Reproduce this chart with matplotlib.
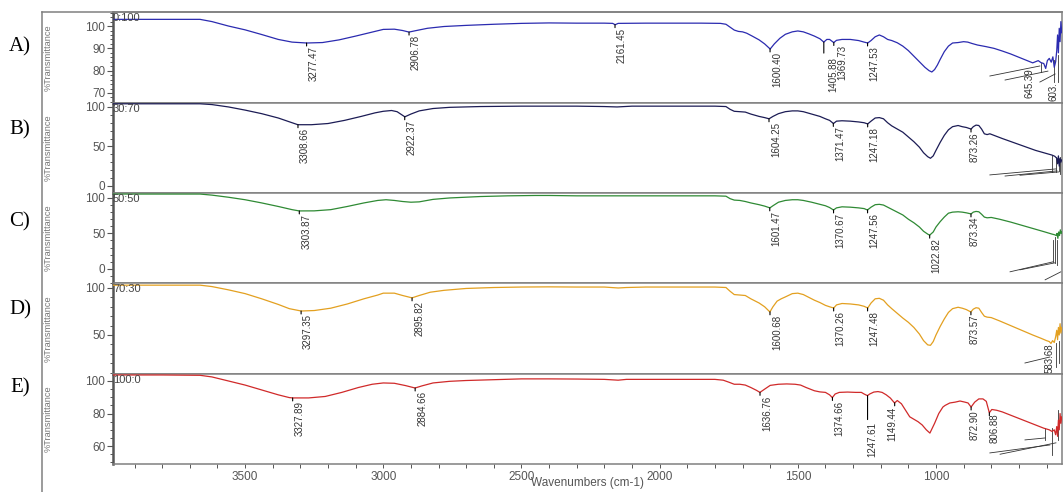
import numpy as np
import matplotlib
matplotlib.use("Agg")
import matplotlib.pyplot as plt
from matplotlib.ticker import MultipleLocator, FixedLocator
from matplotlib.lines import Line2D

plt.rcParams['font.family'] = ['Liberation Sans', 'DejaVu Sans']

# ---------------- data ----------------
ratios = ["0:100", "30:70", "50:50", "70:30", "100:0"]
letters = ["A)", "B)", "C)", "D)", "E)"]
x_ticks = [3500, 3000, 2500, 2000, 1500, 1000]

wn_a = [3978, 3700, 3663, 3620, 3560, 3500, 3440, 3380, 3330, 3277, 3220, 3160, 3100, 3050, 3000,
        2960, 2930, 2907, 2880, 2840, 2780, 2700, 2600, 2500, 2400, 2300, 2200, 2170, 2161, 2150,
        2050, 1950, 1850, 1780, 1760, 1745, 1730, 1715, 1700, 1685, 1665, 1640, 1620, 1600, 1585,
        1565, 1545, 1520, 1500, 1480, 1460, 1440, 1420, 1406, 1395, 1385, 1370, 1360, 1340, 1310,
        1280, 1260, 1247, 1235, 1220, 1205, 1190, 1175, 1160, 1140, 1120, 1100, 1080, 1060, 1040,
        1025, 1015, 1005, 995, 985, 970, 955, 940, 920, 900, 885, 870, 850, 820, 790, 760, 730,
        700, 680, 660, 650, 640, 630, 620, 610, 603, 597, 590, 583, 577, 572, 567, 563, 560, 557,
        554, 551, 548, 545]
t_a = [103, 103, 103, 102, 100, 98.3, 96.2, 94, 92.8, 92.4, 92.6, 93.8, 95.5, 97, 98.5,
       98.6, 98, 97.3, 98, 99, 99.8, 100.3, 100.8, 101.2, 101.4, 101.3, 101.3, 101.2, 100.6, 101.2,
       101.3, 101.3, 101.3, 101.2, 100.8, 99.5, 98.2, 97.6, 97.4, 96.8, 95.5, 93.8, 92, 89.7, 92,
       94.5, 96.3, 97.4, 97.8, 97.4, 96.5, 95.5, 94.3, 92.8, 94, 94, 92.6, 93.6, 94, 94,
       93.5, 92.8, 92.4, 93.5, 95.2, 96, 95.2, 94, 93.5, 92.5, 91, 89, 86.5, 84, 81.5,
       80, 79.4, 80.5, 82.5, 85, 88.5, 91, 92.4, 92.6, 93, 92.8, 92.2, 91.5, 90.8, 90, 88.8, 87.5,
       86, 85, 84, 83.5, 84, 84.5, 83.6, 83.2, 81, 84.5, 85.5, 83.8, 86.2, 81.5, 84, 89, 96, 88,
       99, 93, 102, 97]

wn_b = [3978, 3663, 3620, 3560, 3500, 3440, 3380, 3330, 3309, 3260, 3200, 3140, 3080, 3030, 3000,
        2970, 2950, 2922, 2900, 2870, 2820, 2760, 2650, 2500, 2400, 2300, 2200, 2154, 2100, 2000,
        1900, 1800, 1760, 1745, 1730, 1710, 1690, 1670, 1640, 1620, 1604, 1590, 1570, 1545, 1520,
        1500, 1480, 1460, 1440, 1420, 1400, 1385, 1371, 1360, 1340, 1310, 1280, 1260, 1247, 1235,
        1220, 1205, 1190, 1175, 1160, 1140, 1120, 1100, 1080, 1060, 1045, 1030, 1020, 1010, 1000,
        985, 970, 955, 940, 920, 905, 890, 873, 865, 855, 845, 835, 825, 815, 805, 790, 760, 720,
        680, 640, 600, 580, 570, 563, 560, 557, 554, 551, 548, 545]
t_b = [104, 104, 103, 100, 96, 91.5, 86, 80, 77.5, 77.5, 79, 83, 88, 92.5, 94.5,
       95.5, 94, 87.5, 91, 95, 98, 99.5, 100.5, 101, 101, 101, 100.5, 100, 101, 101,
       101, 101, 100.5, 97, 94.5, 94, 93.5, 91, 88, 86.5, 85, 88, 91.5, 94, 95,
       95, 94, 92, 90, 88, 85, 83, 79, 82, 82.5, 82, 81, 80, 78.5, 82,
       86, 86.5, 85, 80, 76, 72, 68, 62, 56, 49, 42, 37, 35, 38, 45,
       55, 64, 71, 75, 76.5, 75, 74, 72, 75, 77, 76.5, 72, 66, 65, 66, 64, 60, 55,
       50, 45, 41, 39, 37.5, 35, 28, 38, 25, 35, 30, 33]

wn_c = [3978, 3663, 3620, 3560, 3500, 3440, 3380, 3330, 3304, 3250, 3190, 3130, 3070, 3020, 2990,
        2960, 2930, 2900, 2870, 2820, 2760, 2650, 2550, 2450, 2400, 2300, 2200, 2100, 2000, 1900,
        1800, 1760, 1745, 1730, 1710, 1690, 1670, 1640, 1620, 1601, 1590, 1570, 1545, 1520, 1500,
        1480, 1450, 1420, 1400, 1385, 1371, 1360, 1340, 1310, 1280, 1260, 1248, 1235, 1220, 1205,
        1190, 1175, 1160, 1140, 1120, 1100, 1080, 1060, 1045, 1030, 1023, 1010, 1000, 985, 970,
        955, 940, 920, 905, 890, 873, 865, 855, 845, 835, 825, 815, 800, 770, 730, 690, 650, 610,
        580, 570, 565, 562, 559, 556, 553, 550, 547, 545]
t_c = [105.5, 105.5, 104, 101, 97.5, 93, 88, 83.5, 81.7, 81.8, 83.5, 88, 93, 96.5, 97.5,
       96.5, 95, 94, 94.5, 98, 100, 102, 103, 103.5, 103.5, 103, 103, 103, 103, 103,
       103, 102.5, 99, 97, 96.5, 95, 93, 90.5, 88.5, 86, 89, 94, 96.5, 97.5, 97.5,
       96.5, 94, 91, 89, 86.5, 83, 86, 87.5, 87, 86, 85, 83, 87, 90.5, 91,
       90, 87, 84, 80, 76, 70, 65, 59, 53, 49, 47.5, 52, 59, 66.5, 73,
       78.5, 80, 80.5, 80, 79, 77.5, 80, 81, 80.5, 77, 73, 72, 72.5, 70, 66, 61.5, 57, 52.5,
       49, 48, 47, 50, 43, 52, 47, 55, 50, 52]

wn_d = [3978, 3663, 3620, 3560, 3500, 3440, 3380, 3340, 3297, 3250, 3190, 3130, 3070, 3020, 3000,
        2960, 2930, 2896, 2870, 2830, 2780, 2700, 2600, 2500, 2400, 2300, 2200, 2150, 2120, 2050,
        2000, 1900, 1800, 1760, 1745, 1730, 1710, 1690, 1670, 1640, 1620, 1601, 1590, 1575, 1560,
        1545, 1520, 1500, 1480, 1460, 1440, 1420, 1400, 1385, 1370, 1360, 1340, 1310, 1280, 1260,
        1247, 1235, 1220, 1205, 1190, 1175, 1160, 1140, 1120, 1100, 1080, 1060, 1045, 1030, 1020,
        1010, 1000, 985, 970, 955, 940, 920, 905, 890, 874, 865, 855, 845, 835, 825, 815, 800, 770,
        730, 690, 650, 620, 600, 590, 584, 578, 572, 567, 563, 560, 557, 554, 551, 548, 545]
t_d = [103, 103, 101.5, 98, 94, 88.5, 82.5, 78, 75.5, 76, 78.5, 83, 88.5, 92.5, 94.5,
       94.5, 92, 89.5, 92, 95.5, 97.5, 99.5, 100.5, 101, 101.2, 101, 101, 100, 100.5, 101,
       101, 101, 101, 100.5, 96.5, 93, 92.5, 92, 88.5, 84, 80, 74.5, 80, 86, 88.5,
       90.5, 94, 94.5, 93, 90, 87, 84.5, 81.5, 80, 78.7, 82, 83.5, 83, 82, 80.5,
       78.7, 84, 88.5, 89, 87, 82, 78, 73, 68, 63.5, 58, 51, 44, 39.5, 39,
       43, 50, 59, 67, 74, 78, 79.5, 78.5, 77, 74.5, 77.5, 79, 78.5, 74, 70, 69, 68.5, 65,
       60, 55, 50, 46.5, 44, 43, 41, 44, 42, 48, 55, 45, 58, 50, 62, 52, 58]

wn_e = [3978, 3800, 3663, 3620, 3560, 3500, 3440, 3380, 3340, 3328, 3270, 3210, 3150, 3090, 3040,
        3000, 2960, 2920, 2885, 2860, 2820, 2760, 2700, 2600, 2500, 2400, 2300, 2200, 2150, 2120,
        2050, 2000, 1900, 1800, 1770, 1750, 1730, 1710, 1690, 1670, 1650, 1637, 1620, 1600, 1570,
        1540, 1510, 1490, 1470, 1440, 1420, 1400, 1385, 1375, 1365, 1350, 1320, 1290, 1270, 1260,
        1248, 1240, 1225, 1210, 1195, 1180, 1165, 1150, 1140, 1125, 1110, 1095, 1080, 1065, 1050,
        1035, 1022, 1005, 990, 975, 967, 950, 931, 913, 895, 884, 873, 860, 845, 830, 818, 807,
        798, 780, 760, 730, 700, 670, 640, 610, 590, 580, 572, 567, 563, 560, 557, 554, 551, 548, 545]
t_e = [103.7, 103.7, 103.5, 102.5, 100, 97.5, 94.5, 91.5, 89.8, 89.6, 89.6, 90.5, 93, 96, 98,
       98.8, 98.6, 97.2, 95.7, 97, 98.8, 99.8, 100.3, 100.8, 101.3, 101.3, 101.2, 101, 100.5, 101,
       101, 101, 101, 101, 100.5, 99.3, 98, 98, 97.5, 96, 94.3, 93, 95, 97.3, 98,
       98.2, 98, 97.5, 96, 94, 93.3, 93, 91.5, 89.8, 92, 93, 93.2, 93, 93, 92,
       91, 92, 93.2, 93.5, 93, 91.5, 89.5, 86.5, 88, 86, 82, 78, 76.5, 75, 73,
       70, 68, 74, 80, 84, 85, 86.5, 87, 87.7, 87, 86.5, 84, 87, 89, 89, 87.5, 80.5,
       82.5, 82, 81, 79, 77, 75, 73, 71, 70, 69, 70, 67, 72, 66, 76, 70, 80, 74, 78]

wavenumbers = [wn_a, wn_b, wn_c, wn_d, wn_e]
transmittance = [t_a, t_b, t_c, t_d, t_e]

peak_labels = [
    ["3277.47", "2906.78", "2161.45", "1600.40", "1405.88", "1369.73", "1247.53"],
    ["3308.66", "2922.37", "1604.25", "1371.47", "1247.18", "873.26"],
    ["3303.87", "1601.47", "1370.67", "1247.56", "1022.82", "873.34"],
    ["3297.35", "2895.82", "1600.68", "1370.26", "1247.48", "873.57"],
    ["3327.89", "2884.66", "1636.76", "1374.66", "1247.61", "1149.44", "872.90", "806.88"],
]
# labels pushed to the crowded right end (text, wavenumber, %T of text top)
edge_labels = [
    [("645.39", 660, 81.2), ("603.", 573, 74.9)],
    [],
    [],
    [("583.68", 588, 41.5)],
    [],
]
# leader lines of the crowded right end (wn1, T1, wn2, T2)
leaders = [
    [(805, 77.6, 624, 82.1), (750, 75.8, 595, 79.8), (624, 74.9, 569, 78.5),
     (620, 83.4, 620, 79.4), (573, 84.8, 573, 74.9), (559, 87, 559, 74.9)],
    [(805, 13.9, 566, 21.5), (750, 12.5, 562, 19), (696, 13.5, 555, 17.7),
     (580, 39, 580, 17.7), (566, 37, 566, 17.7), (555, 34, 555, 19), (550, 36, 550, 15)],
    [(732, -4.2, 576, 9.9), (696, -1.4, 569, 8.5), (605, -15.5, 548, -4.2),
     (576, 40.8, 576, 9.9), (569, 45, 569, 8.5), (562, 40.8, 562, 6)],
    [(678, 20.2, 588, 26.6), (566, 41.5, 566, 16), (555, 44, 555, 20)],
    [(805, 55.8, 588, 60.7), (678, 63.8, 605, 65), (768, 55, 566, 62),
     (606, 71.2, 606, 63.8), (580, 71, 580, 54.6), (559, 82, 559, 63.8)],
]

# ---------------- style / layout ----------------
colors = ["#2b2bb0", "#1c1c55", "#2f8a34", "#e3a020", "#d02a2a"]
ylims = [(65.5, 106.3), (-9, 105), (-20, 107), (8.5, 105.3), (49, 104.3)]
ymajors = [[70, 80, 90, 100], [0, 50, 100], [0, 50, 100], [50, 100], [60, 80, 100]]
yminors = [2, 10, 10, 10, 5]
panel_px = [(12, 103), (103, 193), (193, 283), (283, 374), (374, 464)]
letter_y = [47, 130, 222, 310, 388]
special = {(0, "1405.88"): (9, 15, 11), (0, "1369.73"): (9, 2, 3),
           (4, "1247.61"): (5, 26, 24), (4, "1149.44"): (-2, 4, 3), (4, "806.88"): (5, 1, 3)}

W, H = 1064, 492
fig = plt.figure(figsize=(W / 100, H / 100), dpi=100)
x0, x1 = 113, 1062
PT = 72 / 100
grey = "#555555"

for i, (top, bot) in enumerate(panel_px):
    ax = fig.add_axes([x0 / W, 1 - bot / H, (x1 - x0) / W, (bot - top) / H])
    wn = np.array(wavenumbers[i], float)
    tt = np.array(transmittance[i], float)
    ax.plot(wn, tt, color=colors[i], lw=0.9, zorder=3)
    ax.set_xlim(3978, 544)
    ax.set_ylim(*ylims[i])
    ax.yaxis.set_major_locator(FixedLocator(ymajors[i]))
    ax.yaxis.set_minor_locator(MultipleLocator(yminors[i]))
    ax.xaxis.set_major_locator(FixedLocator(x_ticks))
    ax.xaxis.set_minor_locator(MultipleLocator(100))
    ax.tick_params(axis='y', which='major', direction='out', length=4.5, width=0.8,
                   color=grey, labelsize=8.5, labelcolor=grey, pad=1)
    ax.tick_params(axis='y', which='minor', direction='out', length=2.5, width=0.7, color=grey)
    if i == 4:
        ax.tick_params(axis='x', which='both', direction='out', length=3, width=0.7,
                       color=grey, labelsize=8.5, labelcolor=grey, pad=2)
    else:
        ax.tick_params(axis='x', which='both', bottom=False, labelbottom=False)
    for s in ['top', 'right', 'bottom']:
        ax.spines[s].set_color("#808080")
        ax.spines[s].set_linewidth(1.1)
    ax.spines['left'].set_color("#555555")
    ax.spines['left'].set_linewidth(1.8)
    ax.set_ylabel("%Transmittance", fontsize=6.7, color="#777777")
    ax.yaxis.set_label_coords(-0.064, 0.5)
    ax.text(0.0, 0.985, ratios[i], transform=ax.transAxes, ha='left', va='top',
            fontsize=8, color="#444444", zorder=5)

    asc_w, asc_t = wn[::-1], tt[::-1]
    for lab in peak_labels[i]:
        w = float(lab)
        t = float(np.interp(w, asc_w, asc_t))
        dx, dy, tick = special.get((i, lab), (4 if w < 900 else 7, 3, 3))
        ax.annotate('', xy=(w, t), xytext=(0, -tick * PT), textcoords='offset points',
                    arrowprops=dict(arrowstyle='-', color='black', lw=0.8,
                                    shrinkA=0, shrinkB=0))
        ax.annotate(lab, xy=(w, t), xytext=(dx * PT, -dy * PT), textcoords='offset points',
                    rotation=90, ha='center', va='top', fontsize=7, color="#333333")
    for (lab, w, t) in edge_labels[i]:
        ax.text(w, t, lab, rotation=90, ha='center', va='top', fontsize=7,
                color="#333333", clip_on=True)
    for (wa, ta, wb, tb) in leaders[i]:
        ax.plot([wa, wb], [ta, tb], color="#333333", lw=0.6, zorder=2)

    fig.text(20 / W, 1 - letter_y[i] / H, letters[i], family='Liberation Serif',
             fontsize=15, ha='center', va='center', color='black')

# axis title (figure-level so it stays inside the canvas)
fig.text((x0 + x1) / 2 / W, 3 / H, "Wavenumbers (cm-1)", fontsize=8.5, color=grey,
         ha='center', va='bottom')

# outer frame
fig.add_artist(Line2D([42 / W, 42 / W], [0, 1 - 12 / H], color="#808080", lw=1.1))
fig.add_artist(Line2D([42 / W, x1 / W], [1 - 12 / H, 1 - 12 / H], color="#808080", lw=1.1))

fig.savefig("out.png", dpi=100)
